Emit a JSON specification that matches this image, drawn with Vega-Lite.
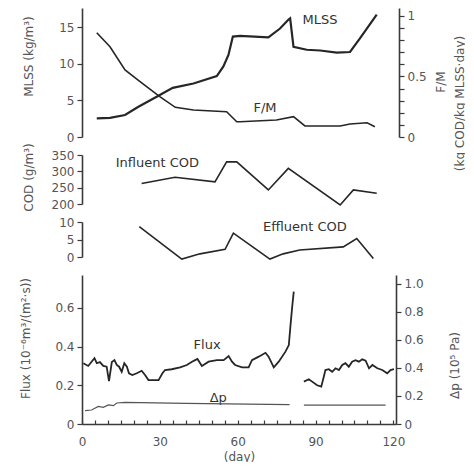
{
  "$schema": "https://vega.github.io/schema/vega-lite/v6.json",
  "padding": {"left": 19, "top": 8, "right": 0, "bottom": 0},
  "background": "white",
  "config": {
    "view": {"stroke": null},
    "axis": {"grid": false, "labelOverlap": false, "labelFlush": false, "domainColor": "#3a3a3a", "domainWidth": 1.6, "tickColor": "#3a3a3a", "tickWidth": 1.2, "tickSize": 5, "labelColor": "#555", "labelFont": "DejaVu Sans", "labelFontSize": 12, "labelPadding": 3, "titleFont": "DejaVu Sans", "titleFontSize": 12, "titleFontWeight": "normal", "titleColor": "#555"},
    "line": {"color": "#262626", "strokeWidth": 1.6},
    "text": {"font": "DejaVu Sans", "fontSize": 13, "color": "#333"}
  },
  "datasets": {
    "mlss": [
      {"day": 5.7, "v": 2.55}, {"day": 10.8, "v": 2.6}, {"day": 16.6, "v": 3.0}, {"day": 21.6, "v": 4.1},
      {"day": 28.8, "v": 5.5}, {"day": 35, "v": 6.7}, {"day": 43, "v": 7.3}, {"day": 52, "v": 8.3},
      {"day": 54.5, "v": 9.6}, {"day": 56.5, "v": 11.2}, {"day": 58.2, "v": 13.7}, {"day": 61, "v": 13.8},
      {"day": 71.9, "v": 13.6}, {"day": 76.4, "v": 14.8}, {"day": 79.6, "v": 16.0}, {"day": 80.3, "v": 16.2},
      {"day": 81.6, "v": 12.3}, {"day": 86.7, "v": 11.9}, {"day": 91.9, "v": 11.8}, {"day": 98.3, "v": 11.5},
      {"day": 103.4, "v": 11.6}, {"day": 107.3, "v": 13.5}, {"day": 113.7, "v": 16.7}
    ],
    "fm": [
      {"day": 5.7, "v": 0.862}, {"day": 10.8, "v": 0.746}, {"day": 16.6, "v": 0.554}, {"day": 22.4, "v": 0.457},
      {"day": 30, "v": 0.333}, {"day": 36, "v": 0.245}, {"day": 43, "v": 0.223}, {"day": 55.8, "v": 0.209},
      {"day": 59.7, "v": 0.126}, {"day": 61, "v": 0.126}, {"day": 75, "v": 0.14}, {"day": 81.6, "v": 0.168},
      {"day": 86, "v": 0.091}, {"day": 99.6, "v": 0.091}, {"day": 103.4, "v": 0.107}, {"day": 110, "v": 0.118},
      {"day": 113, "v": 0.085}
    ],
    "inf": [
      {"day": 23, "v": 263}, {"day": 35.9, "v": 282}, {"day": 51.3, "v": 268}, {"day": 55.8, "v": 329},
      {"day": 59.7, "v": 329}, {"day": 71.9, "v": 243}, {"day": 79.6, "v": 309}, {"day": 99.6, "v": 197},
      {"day": 104.7, "v": 243}, {"day": 113.7, "v": 233}
    ],
    "eff": [
      {"day": 22.1, "v": 8.7}, {"day": 38.5, "v": -0.6}, {"day": 45.5, "v": 0.9}, {"day": 55.2, "v": 2.2},
      {"day": 58.4, "v": 6.8}, {"day": 72.5, "v": -0.6}, {"day": 77.6, "v": 0.9}, {"day": 84, "v": 2.0},
      {"day": 100.8, "v": 2.9}, {"day": 106, "v": 5.3}, {"day": 112.4, "v": -0.4}
    ],
    "lab1": [
      {"day": 91.8, "v": 16.0, "t": "MLSS"},
      {"day": 70.6, "v": 3.96, "t": "F/M"}
    ],
    "fmtitle": [{"day": 138.5, "v": 7.5, "t": "F/M"}],
    "lab2": [{"day": 29.1, "v": 325, "t": "Influent COD"}],
    "lab3": [{"day": 86, "v": 8.6, "t": "Effluent COD"}],
    "lab4": [
      {"day": 48.2, "v": 0.408, "t": "Flux"},
      {"day": 52.5, "v": 0.134, "t": "Δp"}
    ],
    "flux": [
      {"seg": 1, "day": 0.5, "v": 0.314}, {"seg": 1, "day": 2.4, "v": 0.30}, {"seg": 1, "day": 4.8, "v": 0.34},
      {"seg": 1, "day": 5.7, "v": 0.314}, {"seg": 1, "day": 6.9, "v": 0.32}, {"seg": 1, "day": 8.2, "v": 0.30},
      {"seg": 1, "day": 9.5, "v": 0.296}, {"seg": 1, "day": 10.4, "v": 0.222}, {"seg": 1, "day": 11.5, "v": 0.32},
      {"seg": 1, "day": 12.5, "v": 0.33}, {"seg": 1, "day": 13.4, "v": 0.305}, {"seg": 1, "day": 14.3, "v": 0.296},
      {"seg": 1, "day": 15.3, "v": 0.27}, {"seg": 1, "day": 16.3, "v": 0.314}, {"seg": 1, "day": 17.3, "v": 0.296},
      {"seg": 1, "day": 18.1, "v": 0.262}, {"seg": 1, "day": 19.4, "v": 0.253}, {"seg": 1, "day": 21.1, "v": 0.262},
      {"seg": 1, "day": 23, "v": 0.275}, {"seg": 1, "day": 24.3, "v": 0.253}, {"seg": 1, "day": 25.6, "v": 0.227},
      {"seg": 1, "day": 29.5, "v": 0.227}, {"seg": 1, "day": 31, "v": 0.262}, {"seg": 1, "day": 32, "v": 0.279},
      {"seg": 1, "day": 34.6, "v": 0.283}, {"seg": 1, "day": 37.8, "v": 0.293}, {"seg": 1, "day": 40.4, "v": 0.305},
      {"seg": 1, "day": 42.4, "v": 0.322}, {"seg": 1, "day": 43.6, "v": 0.33}, {"seg": 1, "day": 44.5, "v": 0.336},
      {"seg": 1, "day": 46.2, "v": 0.30}, {"seg": 1, "day": 48.8, "v": 0.322}, {"seg": 1, "day": 52, "v": 0.33},
      {"seg": 1, "day": 54.6, "v": 0.33}, {"seg": 1, "day": 56.5, "v": 0.351}, {"seg": 1, "day": 57.8, "v": 0.322},
      {"seg": 1, "day": 59, "v": 0.305}, {"seg": 1, "day": 61.7, "v": 0.293}, {"seg": 1, "day": 64.2, "v": 0.293},
      {"seg": 1, "day": 65.5, "v": 0.33}, {"seg": 1, "day": 68.1, "v": 0.348}, {"seg": 1, "day": 70.7, "v": 0.368},
      {"seg": 1, "day": 71.9, "v": 0.348}, {"seg": 1, "day": 73.9, "v": 0.293}, {"seg": 1, "day": 75.8, "v": 0.322},
      {"seg": 1, "day": 78.4, "v": 0.374}, {"seg": 1, "day": 79.7, "v": 0.408}, {"seg": 1, "day": 80.3, "v": 0.503},
      {"seg": 1, "day": 81, "v": 0.606}, {"seg": 1, "day": 81.6, "v": 0.684},
      {"seg": 2, "day": 85.5, "v": 0.219}, {"seg": 2, "day": 87.4, "v": 0.231}, {"seg": 2, "day": 88.7, "v": 0.219},
      {"seg": 2, "day": 90.6, "v": 0.2}, {"seg": 2, "day": 92.2, "v": 0.193}, {"seg": 2, "day": 93.2, "v": 0.245},
      {"seg": 2, "day": 93.8, "v": 0.279}, {"seg": 2, "day": 95.1, "v": 0.283}, {"seg": 2, "day": 96.4, "v": 0.27},
      {"seg": 2, "day": 97.7, "v": 0.288}, {"seg": 2, "day": 99, "v": 0.279}, {"seg": 2, "day": 100.3, "v": 0.305},
      {"seg": 2, "day": 101.5, "v": 0.314}, {"seg": 2, "day": 102.8, "v": 0.296}, {"seg": 2, "day": 104.1, "v": 0.322},
      {"seg": 2, "day": 105.4, "v": 0.33}, {"seg": 2, "day": 106.7, "v": 0.322}, {"seg": 2, "day": 108, "v": 0.334},
      {"seg": 2, "day": 109.3, "v": 0.327}, {"seg": 2, "day": 110.6, "v": 0.288}, {"seg": 2, "day": 111.9, "v": 0.305},
      {"seg": 2, "day": 113.8, "v": 0.288}, {"seg": 2, "day": 115.7, "v": 0.279}, {"seg": 2, "day": 117.6, "v": 0.262},
      {"seg": 2, "day": 118.9, "v": 0.279}, {"seg": 2, "day": 120.2, "v": 0.283}
    ],
    "dp": [
      {"seg": 1, "day": 1.2, "v": 0.095}, {"seg": 1, "day": 3.7, "v": 0.1}, {"seg": 1, "day": 6.3, "v": 0.126},
      {"seg": 1, "day": 8.2, "v": 0.119}, {"seg": 1, "day": 10.2, "v": 0.136}, {"seg": 1, "day": 12.1, "v": 0.131},
      {"seg": 1, "day": 13.4, "v": 0.15}, {"seg": 1, "day": 16.6, "v": 0.155}, {"seg": 1, "day": 40, "v": 0.147},
      {"seg": 1, "day": 80, "v": 0.138},
      {"seg": 2, "day": 85.5, "v": 0.135}, {"seg": 2, "day": 117, "v": 0.135}
    ]
  },
  "spacing": 18,
  "bounds": "flush",
  "resolve": {"scale": {"x": "independent", "y": "independent"}},
  "vconcat": [
    {
      "width": 317,
      "height": 129,
      "resolve": {"scale": {"y": "independent"}},
      "layer": [
        {
          "layer": [
            {
              "data": {"name": "mlss"},
              "mark": {"type": "line", "strokeWidth": 2.2},
              "encoding": {
                "x": {"field": "day", "type": "quantitative", "scale": {"domain": [0, 122.3], "nice": false, "zero": false}, "axis": null},
                "y": {"field": "v", "type": "quantitative", "scale": {"domain": [0, 17.6], "nice": false},
                      "axis": {"values": [0, 5, 10, 15], "tickCount": 100, "format": "d", "labelOverlap": false, "title": "MLSS (kg/m³)", "titleX": -54, "titleY": 48, "titleAngle": 270, "titleBaseline": "middle", "titleAlign": "center"}}
              }
            },
            {
              "data": {"name": "lab1"},
              "mark": {"type": "text"},
              "encoding": {
                "x": {"field": "day", "type": "quantitative", "scale": {"domain": [0, 122.3], "nice": false, "zero": false}, "axis": null},
                "y": {"field": "v", "type": "quantitative", "scale": {"domain": [0, 17.6], "nice": false}},
                "text": {"field": "t"}
              }
            },
            {
              "data": {"name": "fmtitle"},
              "mark": {"type": "text", "angle": 270, "fontSize": 12, "color": "#555"},
              "encoding": {
                "x": {"field": "day", "type": "quantitative", "scale": {"domain": [0, 122.3], "nice": false, "zero": false}, "axis": null},
                "y": {"field": "v", "type": "quantitative", "scale": {"domain": [0, 17.6], "nice": false}},
                "text": {"field": "t"}
              }
            }
          ]
        },
        {
          "data": {"name": "fm"},
          "mark": {"type": "line"},
          "encoding": {
            "x": {"field": "day", "type": "quantitative", "scale": {"domain": [0, 122.3], "nice": false, "zero": false}, "axis": null},
            "y": {"field": "v", "type": "quantitative", "scale": {"domain": [0, 1.066], "nice": false},
                  "axis": {"orient": "right", "values": [0, 0.1, 0.2, 0.3, 0.4, 0.5, 0.6, 0.7, 0.8, 0.9, 1], "tickCount": 100, "labelOverlap": false,
                           "labelExpr": "datum.value === 0 ? '0' : (datum.value === 0.5 ? '0.5' : (datum.value === 1 ? '1' : ''))",
                           "title": "(kg COD/kg MLSS·day)", "titleAngle": 270, "titleX": 60, "titleY": 95, "titleBaseline": "middle", "titleAlign": "center"}}
          }
        }
      ]
    },
    {
      "width": 317,
      "height": 49,
      "layer": [
        {
          "data": {"name": "inf"},
          "mark": {"type": "line"},
          "encoding": {
            "x": {"field": "day", "type": "quantitative", "scale": {"domain": [0, 122.3], "nice": false, "zero": false}, "axis": null},
            "y": {"field": "v", "type": "quantitative", "scale": {"domain": [200, 350], "nice": false, "zero": false},
                  "axis": {"values": [200, 250, 300, 350], "tickCount": 100, "format": "d", "labelOverlap": false, "title": "COD (g/m³)", "titleX": -54, "titleY": 22, "titleAngle": 270, "titleBaseline": "middle", "titleAlign": "center"}}
          }
        },
        {
          "data": {"name": "lab2"},
          "mark": {"type": "text"},
          "encoding": {
            "x": {"field": "day", "type": "quantitative", "scale": {"domain": [0, 122.3], "nice": false, "zero": false}, "axis": null},
            "y": {"field": "v", "type": "quantitative", "scale": {"domain": [200, 350], "nice": false, "zero": false}},
            "text": {"field": "t"}
          }
        }
      ]
    },
    {
      "width": 317,
      "height": 35,
      "layer": [
        {
          "data": {"name": "eff"},
          "mark": {"type": "line"},
          "encoding": {
            "x": {"field": "day", "type": "quantitative", "scale": {"domain": [0, 122.3], "nice": false, "zero": false}, "axis": null},
            "y": {"field": "v", "type": "quantitative", "scale": {"domain": [0, 10], "nice": false},
                  "axis": {"values": [0, 5, 10], "tickCount": 100, "format": "d", "labelOverlap": false, "title": null}}
          }
        },
        {
          "data": {"name": "lab3"},
          "mark": {"type": "text"},
          "encoding": {
            "x": {"field": "day", "type": "quantitative", "scale": {"domain": [0, 122.3], "nice": false, "zero": false}, "axis": null},
            "y": {"field": "v", "type": "quantitative", "scale": {"domain": [0, 10], "nice": false}},
            "text": {"field": "t"}
          }
        }
      ]
    },
    {
      "width": 314,
      "height": 149,
      "resolve": {"scale": {"y": "independent"}},
      "layer": [
        {
          "layer": [
            {
              "data": {"name": "flux"},
              "mark": {"type": "line", "strokeWidth": 1.8},
              "encoding": {
                "x": {"field": "day", "type": "quantitative", "scale": {"domain": [0, 121], "nice": false, "zero": false},
                      "axis": {"values": [0, 5, 10, 15, 20, 25, 30, 35, 40, 45, 50, 55, 60, 65, 70, 75, 80, 85, 90, 95, 100, 105, 110, 115, 120], "tickCount": 100,
                               "labelExpr": "datum.value % 30 === 0 ? format(datum.value, 'd') : ''", "labelOverlap": false, "labelFlush": false,
                               "tickSize": -4, "labelPadding": 16, "title": "(day)", "titlePadding": 4}},
                "y": {"field": "v", "type": "quantitative", "scale": {"domain": [0, 0.77], "nice": false},
                      "axis": {"values": [0, 0.2, 0.4, 0.6], "tickCount": 100, "labelOverlap": false, "labelExpr": "datum.value === 0 ? '0' : format(datum.value, '.1f')",
                               "title": "Flux (10⁻⁶m³/(m²·s))", "titleX": -57, "titleY": 63, "titleAngle": 270, "titleBaseline": "middle", "titleAlign": "center"}},
                "detail": {"field": "seg"}
              }
            },
            {
              "data": {"name": "lab4"},
              "mark": {"type": "text"},
              "encoding": {
                "x": {"field": "day", "type": "quantitative", "scale": {"domain": [0, 121], "nice": false, "zero": false}},
                "y": {"field": "v", "type": "quantitative", "scale": {"domain": [0, 0.77], "nice": false}},
                "text": {"field": "t"}
              }
            }
          ]
        },
        {
          "data": {"name": "dp"},
          "mark": {"type": "line", "color": "#555", "strokeWidth": 1.2},
          "encoding": {
            "x": {"field": "day", "type": "quantitative", "scale": {"domain": [0, 121], "nice": false, "zero": false}},
            "y": {"field": "v", "type": "quantitative", "scale": {"domain": [0, 1.064], "nice": false},
                  "axis": {"orient": "right", "values": [0, 0.2, 0.4, 0.6, 0.8, 1.0], "tickCount": 100, "labelOverlap": false,
                           "labelExpr": "datum.value === 0 ? '0' : format(datum.value, '.1f')",
                           "title": "Δp (10⁵ Pa)", "titleAngle": 270, "titleX": 58, "titleY": 90, "titleBaseline": "middle", "titleAlign": "center"}},
            "detail": {"field": "seg"}
          }
        }
      ]
    }
  ]
}
